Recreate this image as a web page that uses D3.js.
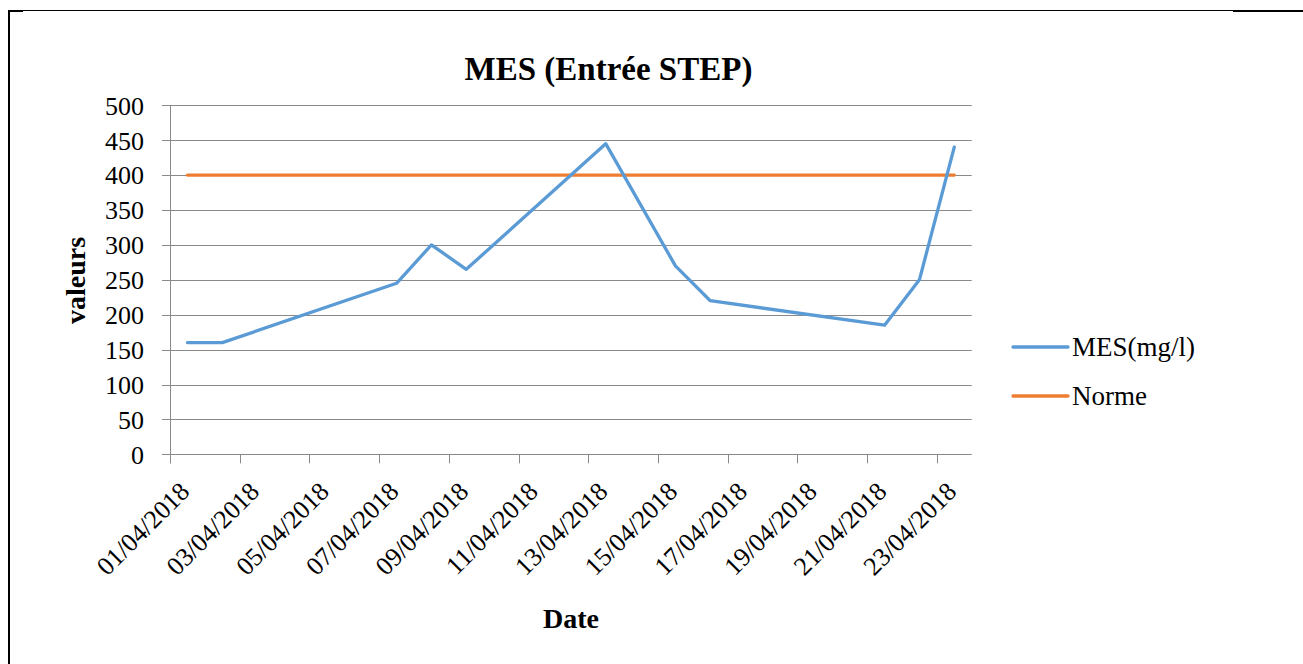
<!DOCTYPE html>
<html>
<head>
<meta charset="utf-8">
<script src="https://cdn.jsdelivr.net/npm/d3@7"></script>
<style>
  html, body { margin: 0; padding: 0; background: #fff; }
  svg { display: block; }
</style>
</head>
<body>
<svg id="chart" width="1303" height="664"></svg>
<script>
// ---- data ----
const dates = ["2018-04-01","2018-04-02","2018-04-07","2018-04-08","2018-04-09",
               "2018-04-13","2018-04-15","2018-04-16","2018-04-21","2018-04-22","2018-04-23"];
const mesValues = [160,160,245,300,265,445,270,220,185,250,440];
const normeValues = [400,400,400,400,400,400,400,400,400,400,400];
const yTicks = [0,50,100,150,200,250,300,350,400,450,500];
const seriesNames = ["MES(mg/l)", "Norme"];
const titleText = "MES (Entrée STEP)";
const xTitle = "Date";
const yTitle = "valeurs";

// ---- setup ----
const FONT = "'Liberation Serif', 'DejaVu Serif', serif";
const svg = d3.select("#chart");
const parse = d3.utcParse("%Y-%m-%d");
const fmt = d3.utcFormat("%d/%m/%Y");
const plotLeft = 170, plotRight = 971.7, plotTop = 105.3, plotBottom = 454.3;

const x = d3.scaleUtc()
  .domain([parse("2018-04-01"), parse("2018-04-24")])
  .range([plotLeft, plotRight]);
const y = d3.scaleLinear().domain([0, 500]).range([plotBottom, plotTop]);

const txt = sel => sel.attr("font-family", FONT).style("font-family", FONT).attr("fill", "#000");

// frame (page border)
svg.append("line").attr("x1", 9).attr("x2", 9).attr("y1", 10).attr("y2", 664)
  .attr("stroke", "#000").attr("stroke-width", 2);
svg.append("line").attr("x1", 8).attr("x2", 1233).attr("y1", 10.5).attr("y2", 10.5)
  .attr("stroke", "#000").attr("stroke-width", 1);
svg.append("line").attr("x1", 8).attr("x2", 23).attr("y1", 11).attr("y2", 11)
  .attr("stroke", "#000").attr("stroke-width", 2);
svg.append("line").attr("x1", 1233).attr("x2", 1303).attr("y1", 11).attr("y2", 11)
  .attr("stroke", "#000").attr("stroke-width", 2);

// gridlines
svg.append("g").selectAll("line").data(yTicks).join("line")
  .attr("x1", plotLeft - 8).attr("x2", plotRight)
  .attr("y1", d => Math.round(y(d)) + 0.5).attr("y2", d => Math.round(y(d)) + 0.5)
  .attr("stroke", "#898989").attr("stroke-width", 1);

// y axis line
svg.append("line").attr("x1", plotLeft + 0.5).attr("x2", plotLeft + 0.5)
  .attr("y1", y(500)).attr("y2", y(0) + 9)
  .attr("stroke", "#898989").attr("stroke-width", 1);

// y tick labels
svg.append("g").selectAll("text").data(yTicks).join("text")
  .attr("x", 144).attr("y", d => y(d) + 9.3)
  .attr("text-anchor", "end").attr("font-size", 26)
  .call(txt)
  .text(d => d);

// x ticks
const xTickDates = d3.utcDay.range(parse("2018-04-01"), parse("2018-04-24"), 2);
svg.append("g").selectAll("line").data(xTickDates).join("line")
  .attr("x1", d => Math.round(x(d)) + 0.5).attr("x2", d => Math.round(x(d)) + 0.5)
  .attr("y1", y(0)).attr("y2", y(0) + 9)
  .attr("stroke", "#898989").attr("stroke-width", 1);

svg.append("g").selectAll("text").data(xTickDates).join("text")
  .attr("text-anchor", "end").attr("font-size", 26)
  .attr("transform", d => `translate(${x(d) + 21},${493}) rotate(-45)`)
  .call(txt)
  .text(d => fmt(d));

// lines
const mid = s => d3.utcHour.offset(parse(s), 12);
const lineGen = d3.line().x(d => x(d.date)).y(d => y(d.value));
const mesData = dates.map((s, i) => ({date: mid(s), value: mesValues[i]}));
const normeData = dates.map((s, i) => ({date: mid(s), value: normeValues[i]}));
const colors = ["#5B9BD5", "#ED7D31"];

svg.append("path").datum(normeData).attr("d", lineGen)
  .attr("fill", "none").attr("stroke", colors[1]).attr("stroke-width", 3.3)
  .attr("stroke-linejoin", "round").attr("stroke-linecap", "round");
svg.append("path").datum(mesData).attr("d", lineGen)
  .attr("fill", "none").attr("stroke", colors[0]).attr("stroke-width", 3.3)
  .attr("stroke-linejoin", "round").attr("stroke-linecap", "round");

// title
svg.append("text").attr("x", 608.5).attr("y", 80)
  .attr("text-anchor", "middle").attr("font-size", 33).attr("font-weight", "bold")
  .call(txt)
  .text(titleText);

// axis titles
svg.append("text").attr("x", 571).attr("y", 628)
  .attr("text-anchor", "middle").attr("font-size", 28).attr("font-weight", "bold")
  .call(txt)
  .text(xTitle);
svg.append("text").attr("transform", "translate(85,280.5) rotate(-90)")
  .attr("text-anchor", "middle").attr("font-size", 28).attr("font-weight", "bold")
  .call(txt)
  .text(yTitle);

// legend
const legY = [347, 396];
const leg = svg.append("g").selectAll("g").data(seriesNames).join("g");
leg.append("line").attr("x1", 1013).attr("x2", 1068)
  .attr("y1", (d, i) => legY[i]).attr("y2", (d, i) => legY[i])
  .attr("stroke", (d, i) => colors[i]).attr("stroke-width", 3.3)
  .attr("stroke-linecap", "round");
leg.append("text").attr("x", 1072).attr("y", (d, i) => legY[i] + 8.5)
  .attr("font-size", 27).call(txt).text(d => d);
</script>
</body>
</html>
